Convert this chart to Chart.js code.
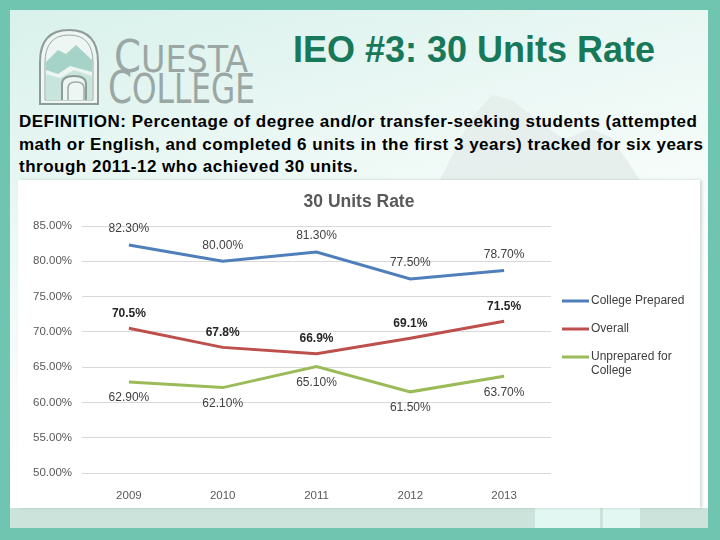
<!DOCTYPE html>
<html lang="en">
  <head>
    <meta charset="UTF-8" />
    <title>IEO #3: 30 Units Rate</title>
    <style>
      body {
        margin: 0;
        width: 720px;
        height: 540px;
        background: #6fc5b0;
        font-family: "Liberation Sans", Arial, sans-serif;
        position: relative;
        overflow: hidden;
      }
      .slide {
        position: absolute;
        left: 10px;
        top: 10px;
        width: 698px;
        height: 518px;
        background: linear-gradient(165deg, #d9f1eb 0%, #eef9f6 35%, #ffffff 65%);
      }
      .band {
        position: absolute;
        left: 10px;
        top: 508px;
        width: 698px;
        height: 20px;
        background: #cce3dc;
      }
      .tab {
        position: absolute;
        top: 508px;
        height: 20px;
        background: #e3f7f2;
      }
      .logo {
        position: absolute;
        left: 0;
        top: 0;
      }
      h1 {
        position: absolute;
        left: 293px;
        top: 32px;
        margin: 0;
        font-size: 36px;
        line-height: 36px;
        font-weight: bold;
        color: #17785a;
        white-space: nowrap;
      }
      .definition {
        position: absolute;
        left: 19px;
        top: 111px;
        margin: 0;
        font-size: 17px;
        letter-spacing: 0.5px;
        line-height: 22.5px;
        font-weight: bold;
        color: #000;
        white-space: nowrap;
      }
      .chart-box {
        position: absolute;
        left: 18px;
        top: 180px;
        width: 682px;
        height: 328px;
        background: #fff;
        box-shadow: 2px 0 3px rgba(120, 150, 140, 0.35);
      }
    </style>
  </head>
  <body>
    <div class="slide"></div>
    <div class="band"></div>
    <div class="tab" style="left: 535px; width: 65px"></div>
    <div class="tab" style="left: 603px; width: 37px"></div>

    <svg class="logo" width="720" height="180">
      <!-- faint mountain watermark -->
      <path d="M440 180 L470 120 L492 95 L512 100 L540 122 L565 140 L590 128 L612 138 L640 180 Z" fill="#e4ecea" opacity="0.8" />
      <!-- arch -->
      <path d="M40 104 L40 62 Q40 30 69 30 Q98 30 98 62 L98 104 Z" fill="#eef6f4" stroke="#8e9c98" stroke-width="2" />
      <path d="M45 100 L45 63 Q45 35 69 35 Q93 35 93 63 L93 100 Z" fill="none" stroke="#9aa8a4" stroke-width="1" />
      <path d="M46 62 L58 50 L66 54 L76 45 L92 60 L92 72 L70 66 L58 74 L46 70 Z" fill="#a6d3c7" />
      <path d="M46 74 L60 78 L74 70 L92 76 L92 100 L46 100 Z" fill="#c8e5dd" />
      <path d="M62 100 L62 84 Q62 76 74 76 Q86 76 86 84 L86 100" fill="#eef6f4" stroke="#8e9c98" stroke-width="2" />
      <path d="M68 100 L68 88 Q68 82 76 82 Q84 82 84 88 L84 100" fill="none" stroke="#9aa8a4" stroke-width="1.5" />
      <text x="114" y="72" font-family="'Liberation Sans Narrow', 'DejaVu Sans Condensed', sans-serif" font-size="38" fill="#9ba7a4" textLength="134" lengthAdjust="spacingAndGlyphs"><tspan font-size="44">C</tspan>UESTA</text>
      <text x="108" y="103" font-family="'Liberation Sans Narrow', 'DejaVu Sans Condensed', sans-serif" font-size="40" fill="#9ba7a4" textLength="147" lengthAdjust="spacingAndGlyphs"><tspan font-size="44">C</tspan>OLLEGE</text>
    </svg>

    <h1>IEO #3: 30 Units Rate</h1>
    <p class="definition">
      DEFINITION: Percentage of degree and/or transfer-seeking students (attempted<br />
      math or English, and completed 6 units in the first 3 years) tracked for six years<br />
      through 2011-12 who achieved 30 units.
    </p>

    <div class="chart-box">
      <canvas id="unitsChart" width="682" height="328"></canvas>
    </div>

    <script src="https://cdn.jsdelivr.net/npm/chart.js"></script>
    <script>
      const years = ["2009", "2010", "2011", "2012", "2013"];
      const collegePrepared = [82.3, 80.0, 81.3, 77.5, 78.7];
      const overall = [70.5, 67.8, 66.9, 69.1, 71.5];
      const unprepared = [62.9, 62.1, 65.1, 61.5, 63.7];
      const yTicks = [50, 55, 60, 65, 70, 75, 80, 85];
      const chartTitle = "30 Units Rate";

      const FONT = "'Liberation Sans', Arial, sans-serif";

      // value labels next to each point
      const pointLabels = {
        id: "pointLabels",
        afterDatasetsDraw(chart) {
          const ctx = chart.ctx;
          chart.data.datasets.forEach((ds, i) => {
            const meta = chart.getDatasetMeta(i);
            ctx.save();
            ctx.font = (ds.labelBold ? "bold " : "") + "12px " + FONT;
            ctx.fillStyle = ds.labelColor;
            ctx.textAlign = "center";
            ctx.textBaseline = "middle";
            meta.data.forEach((pt, j) => {
              ctx.fillText(ds.data[j].toFixed(ds.decimals) + "%", pt.x, pt.y + ds.labelOffset);
            });
            ctx.restore();
          });
        },
      };

      function wrapText(ctx, text, maxWidth) {
        const words = text.split(" ");
        const lines = [];
        let line = "";
        words.forEach((w) => {
          const test = line ? line + " " + w : w;
          if (line && ctx.measureText(test).width > maxWidth) {
            lines.push(line);
            line = w;
          } else {
            line = test;
          }
        });
        lines.push(line);
        return lines;
      }

      // title centred on the whole canvas + legend on the right
      const sideLegend = {
        id: "sideLegend",
        afterDraw(chart) {
          const ctx = chart.ctx;
          ctx.save();
          ctx.font = "bold 17.5px " + FONT;
          ctx.fillStyle = "#595959";
          ctx.textAlign = "center";
          ctx.textBaseline = "middle";
          ctx.fillText(chartTitle, chart.width / 2, 22.5);

          const x0 = chart.chartArea.right + 11;
          let y = chart.chartArea.top + 75;
          ctx.font = "12px " + FONT;
          ctx.textAlign = "left";
          chart.data.datasets.forEach((ds) => {
            ctx.strokeStyle = ds.borderColor;
            ctx.lineWidth = 3;
            ctx.beginPath();
            ctx.moveTo(x0, y);
            ctx.lineTo(x0 + 27, y);
            ctx.stroke();
            ctx.fillStyle = "#404040";
            wrapText(ctx, ds.label, 100).forEach((ln, k) => {
              ctx.fillText(ln, x0 + 29, y + k * 13.5);
            });
            y += 28;
          });
          ctx.restore();
        },
      };

      new Chart(document.getElementById("unitsChart"), {
        type: "line",
        data: {
          labels: years,
          datasets: [
            {
              label: "College Prepared",
              data: collegePrepared,
              borderColor: "#4f7fba",
              labelColor: "#404040",
              labelOffset: -16,
              decimals: 2,
            },
            {
              label: "Overall",
              data: overall,
              borderColor: "#bd4f4c",
              labelColor: "#262626",
              labelBold: true,
              labelOffset: -15,
              decimals: 1,
            },
            {
              label: "Unprepared for College",
              data: unprepared,
              borderColor: "#9bbb59",
              labelColor: "#404040",
              labelOffset: 16,
              decimals: 2,
            },
          ],
        },
        options: {
          responsive: false,
          animation: false,
          devicePixelRatio: 1,
          elements: {
            line: { borderWidth: 3, tension: 0 },
            point: { radius: 0 },
          },
          layout: { padding: { top: 46, right: 149, bottom: 0, left: 0 } },
          plugins: {
            legend: { display: false },
            tooltip: { enabled: false },
            title: { display: false },
          },
          scales: {
            x: {
              offset: true,
              grid: { display: false },
              border: { display: false },
              ticks: { color: "#595959", font: { family: FONT, size: 11.5 }, padding: 8 },
              afterFit(scale) {
                scale.height = 35;
              },
            },
            y: {
              min: 50,
              max: 85,
              afterBuildTicks(scale) {
                scale.ticks = yTicks.map((v) => ({ value: v }));
              },
              grid: { color: "#d9d9d9", drawTicks: false },
              border: { display: false },
              ticks: {
                color: "#595959",
                font: { family: FONT, size: 11.5 },
                padding: 10,
                callback: (v) => v.toFixed(2) + "%",
              },
              afterFit(scale) {
                scale.width = 64;
              },
            },
          },
        },
        plugins: [pointLabels, sideLegend],
      });
    </script>
  </body>
</html>
